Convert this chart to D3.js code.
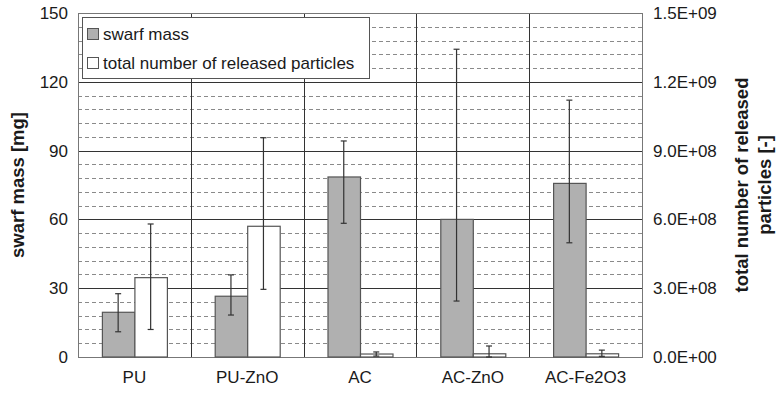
<!DOCTYPE html>
<html>
<head>
<meta charset="utf-8">
<title>swarf mass and released particles</title>
<script src="https://cdn.jsdelivr.net/npm/d3@7"></script>
<style>
  body { margin: 0; background: #fff; }
  text { font-family: "Liberation Sans", Arial, sans-serif; fill: #1a1a1a; }
  .tick text { font-size: 17px; }
  .title { font-size: 18.5px; font-weight: bold; }
</style>
</head>
<body>
<div id="chart"></div>
<script>
// values
var categories = ['PU', 'PU-ZnO', 'AC', 'AC-ZnO', 'AC-Fe2O3'];
var swarfMass = [19.5, 26.5, 78.5, 60, 75.7];          // mg
var swarfLow  = [11, 18.3, 58.3, 24.4, 49.8];
var swarfHigh = [27.6, 35.8, 94.2, 134.2, 112];
var particles     = [3.46e8, 5.7e8, 1.3e7, 1.4e7, 1.4e7];
var particlesLow  = [1.2e8, 2.95e8, 0.4e7, 0, 0.3e7];
var particlesHigh = [5.8e8, 9.56e8, 2.2e7, 4.8e7, 3.0e7];
var leftTicks  = [0, 30, 60, 90, 120, 150];
var rightTicks = ['0.0E+00', '3.0E+08', '6.0E+08', '9.0E+08', '1.2E+09', '1.5E+09'];
var seriesNames = ['swarf mass', 'total number of released particles'];

var width = 776, height = 395;
var margin = {left: 78, right: 134, top: 13, bottom: 38};
var w = width - margin.left - margin.right;
var h = height - margin.top - margin.bottom;

var svg = d3.select('#chart').append('svg')
    .attr('width', width).attr('height', height);
var g = svg.append('g')
    .attr('transform', 'translate(' + margin.left + ',' + margin.top + ')');

var x0 = d3.scaleBand().domain(categories).range([0, w]).padding(0);
var groupW = 65;
var x1 = d3.scaleBand().domain([0, 1])
    .range([(x0.bandwidth() - groupW) / 2, (x0.bandwidth() + groupW) / 2]);
var yL = d3.scaleLinear().domain([0, 150]).range([h, 0]);
var yR = d3.scaleLinear().domain([0, 1.5e9]).range([h, 0]);

// minor dashed grid
var minor = d3.range(0, 151, 6).filter(function(v) { return v % 30 !== 0; });
g.selectAll('.minor').data(minor).enter().append('line')
    .attr('x1', 0).attr('x2', w)
    .attr('y1', function(d) { return Math.round(yL(d)) + 0.5; })
    .attr('y2', function(d) { return Math.round(yL(d)) + 0.5; })
    .attr('stroke', '#8a8a8a').attr('stroke-dasharray', '4,3');

// major grid
g.selectAll('.major').data(leftTicks.slice(1, -1)).enter().append('line')
    .attr('x1', 0).attr('x2', w)
    .attr('y1', function(d) { return Math.round(yL(d)) + 0.5; })
    .attr('y2', function(d) { return Math.round(yL(d)) + 0.5; })
    .attr('stroke', '#333');

// vertical category separators
g.selectAll('.sep').data(categories.slice(1)).enter().append('line')
    .attr('x1', function(d) { return Math.round(x0(d)) + 0.5; })
    .attr('x2', function(d) { return Math.round(x0(d)) + 0.5; })
    .attr('y1', 0).attr('y2', h)
    .attr('stroke', '#333');

// frame
g.append('rect').attr('x', 0.5).attr('y', 0.5).attr('width', w).attr('height', h)
    .attr('fill', 'none').attr('stroke', '#777');

// bars
var rows = categories.map(function(c, i) {
  return [
    {cat: c, s: 0, y: yL(swarfMass[i]), lo: yL(swarfLow[i]), hi: yL(swarfHigh[i])},
    {cat: c, s: 1, y: yR(particles[i]), lo: yR(particlesLow[i]), hi: yR(particlesHigh[i])}
  ];
});
var fills = ['#b0b0b0', '#ffffff'];

var grp = g.selectAll('.grp').data(rows).enter().append('g')
    .attr('transform', function(d) { return 'translate(' + x0(d[0].cat) + ',0)'; });

grp.selectAll('rect').data(function(d) { return d; }).enter().append('rect')
    .attr('x', function(d) { return x1(d.s) + 0.5; })
    .attr('y', function(d) { return d.y; })
    .attr('width', x1.bandwidth())
    .attr('height', function(d) { return h - d.y; })
    .attr('fill', function(d) { return fills[d.s]; })
    .attr('stroke', '#555').attr('stroke-width', 1.2);

// error bars
var eb = grp.selectAll('.eb').data(function(d) { return d; }).enter().append('g')
    .attr('stroke', '#333').attr('stroke-width', 1.2);
eb.append('line')
    .attr('x1', function(d) { return x1(d.s) + x1.bandwidth() / 2; })
    .attr('x2', function(d) { return x1(d.s) + x1.bandwidth() / 2; })
    .attr('y1', function(d) { return d.lo; })
    .attr('y2', function(d) { return d.hi; });
['lo', 'hi'].forEach(function(k) {
  eb.append('line')
    .attr('x1', function(d) { return x1(d.s) + x1.bandwidth() / 2 - 3; })
    .attr('x2', function(d) { return x1(d.s) + x1.bandwidth() / 2 + 3; })
    .attr('y1', function(d) { return d[k]; })
    .attr('y2', function(d) { return d[k]; });
});

// axes
var axL = g.append('g')
    .call(d3.axisLeft(yL).tickValues(leftTicks).tickSize(0).tickPadding(10));
axL.select('.domain').remove();

var axR = g.append('g').attr('transform', 'translate(' + w + ',0)')
    .call(d3.axisRight(yR).tickValues(d3.range(0, 1.51e9, 3e8)).tickSize(0).tickPadding(11)
      .tickFormat(function(d, i) { return rightTicks[i]; }));
axR.select('.domain').remove();

var axB = g.append('g').attr('transform', 'translate(0,' + h + ')')
    .call(d3.axisBottom(x0).tickSize(0).tickPadding(14));
axB.select('.domain').remove();

svg.selectAll('.tick text').attr('fill', '#1a1a1a');

// axis titles
svg.append('text').attr('class', 'title')
    .attr('transform', 'translate(24,185) rotate(-90)')
    .attr('text-anchor', 'middle')
    .text('swarf mass [mg]');
var rt = svg.append('text').attr('class', 'title')
    .attr('transform', 'translate(748,185) rotate(-90)')
    .attr('text-anchor', 'middle');
rt.append('tspan').attr('x', 0).attr('dy', 0).text('total number of released');
rt.append('tspan').attr('x', 0).attr('dy', 23).text('particles [-]');

// legend
var leg = svg.append('g').attr('transform', 'translate(82,17)');
leg.append('rect').attr('x', 0.5).attr('y', 0.5).attr('width', 287).attr('height', 61)
    .attr('fill', '#fff').attr('stroke', '#555');
var li = leg.selectAll('.li').data(seriesNames).enter().append('g')
    .attr('transform', function(d, i) { return 'translate(5,' + (17 + i * 29) + ')'; });
li.append('rect').attr('x', 0.5).attr('y', -5.5).attr('width', 11).attr('height', 11)
    .attr('fill', function(d, i) { return fills[i]; })
    .attr('stroke', '#555');
li.append('text').attr('x', 16).attr('y', 6).style('font-size', '17px')
    .text(function(d) { return d; });
</script>
</body>
</html>
